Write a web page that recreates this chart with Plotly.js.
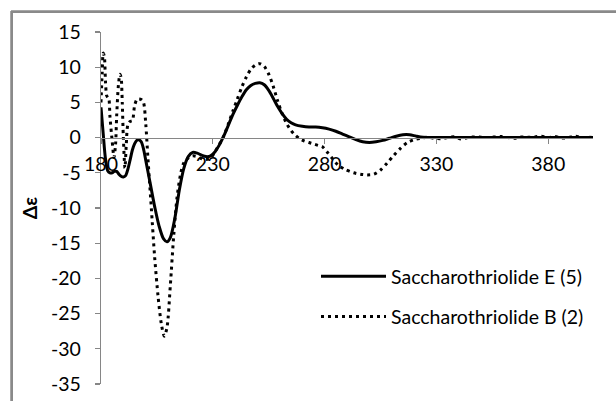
<!DOCTYPE html>
<html>
<head>
<meta charset="utf-8">
<script src="https://cdn.plot.ly/plotly-3.0.1.min.js"></script>
<style>html,body{margin:0;padding:0;background:#fff;}#chart{width:616px;height:401px;}</style>
</head>
<body>
<div id="chart"></div>
<script>
// Wavelength (nm) and Δε readings for Saccharothriolide E (5)
const wlE = [180,181,182,183,184,185,186,187,188,189,190,191,192,193,194,195,196,197,198,199,200,202,204,206,208,209.5,211,213,215,217,219,221,223,225,227,229,231,233,235,237,239,241,243,245,247,249,251,253,255,257,259,261,263,265,267,270,273,276,279,282,285,288,291,294,297,300,303,306,309,312,315,318,321,324,330,340,350,360,370,380,390,400];
const deE = [4.3,0.5,-3,-4.7,-5.0,-5.0,-4.8,-4.8,-5.2,-5.5,-5.6,-5.4,-4.5,-3.2,-1.8,-0.9,-0.4,-0.3,-0.6,-1.6,-3.2,-6.5,-9.8,-12.6,-14.4,-14.8,-14.2,-11.5,-7.5,-4.4,-2.7,-2.1,-2.2,-2.5,-2.7,-2.6,-2.0,-1.0,0.3,1.8,3.3,4.6,5.8,6.8,7.4,7.7,7.8,7.5,6.7,5.6,4.4,3.4,2.6,2.1,1.8,1.6,1.5,1.5,1.4,1.2,0.9,0.5,0.1,-0.3,-0.6,-0.7,-0.6,-0.4,-0.1,0.2,0.4,0.4,0.2,0.05,0,0,0,0,0,0,0,0];

// Wavelength (nm) and Δε readings for Saccharothriolide B (2)
const wlB = [180,180.5,181,181.5,182,182.5,183,183.5,184,185,185.8,186.5,187,187.8,188.5,189,189.5,190,190.7,191.3,192,193,194,195,196,197,198,199,200,201,202.5,204,205.5,207,208.3,209.5,211,212.5,214,215.7,217,219,221,223,225,227,229,231,233,235,237,239,241,243,245,247,249,251,253,255,257,259,261,263,265,267,269,271,273,275,277,279,281,283,286,289,293,296,299,302,305,308,311,314,317,320,323,326,329,332,335,338,341,344,347,350,353,356,359,362,365,368,371,374,377,380,383,386,389,392,395,398,400];
const deB = [5.0,9,12.0,11.5,8,6,5.7,5.5,3,-0.5,-2.8,-1,3,7.5,9.0,8.5,5,0,-4.3,-1,1.8,2.3,2.4,4.5,5.4,5.5,5.4,5.0,2.0,-3,-10,-17,-22.5,-26.5,-28.2,-27,-21,-14,-8.5,-5,-3.6,-2.9,-2.6,-2.7,-3.0,-3.1,-2.9,-2.0,-0.9,0.3,2.0,3.8,5.5,7.2,8.6,9.7,10.3,10.5,10.1,9.0,7.3,5.2,3.4,2.0,1.0,0.3,-0.2,-0.5,-0.7,-0.9,-1.1,-1.3,-2.0,-2.8,-3.9,-4.5,-5.0,-5.2,-5.3,-5.2,-4.6,-3.6,-2.5,-1.5,-0.7,-0.3,-0.1,0.05,-0.1,-0.15,0,0.1,-0.2,0,0.1,0.05,0,0.1,0.15,0,-0.1,0.1,0.05,0.1,0.2,0,0.15,-0.05,0,0.2,0,0.05,0];

const seriesNames = ['Saccharothriolide E (5)', 'Saccharothriolide B (2)'];
const xTicks = [180, 230, 280, 330, 380];
const yTicks = [15, 10, 5, 0, -5, -10, -15, -20, -25, -30, -35];

const FONT = 'Lato, "Open Sans", sans-serif';
const FS = 19.5;
const axisGray = '#868686';
const frameGray = '#8a8a8a';
const W = 616, H = 401;

const traces = [
  {x: wlE, y: deE, type: 'scatter', mode: 'lines', name: seriesNames[0], legendgroup: 'e',
   line: {color: '#000', width: 3, shape: 'spline', smoothing: 0.8}},
  {x: wlB, y: deB, type: 'scatter', mode: 'lines', name: seriesNames[1], legendgroup: 'b',
   line: {color: '#000', width: 3, dash: '3px,4px', shape: 'spline', smoothing: 0.8}},
  // empty trace that only hosts the chart-area frame axes
  {x: [], y: [], type: 'scatter', mode: 'lines', xaxis: 'x2', yaxis: 'y2', showlegend: false, hoverinfo: 'skip'}
];

const yDom = [17 / H, 369 / H];
const frameAxis = {showline: true, linecolor: frameGray, linewidth: 1.5, ticks: '', showticklabels: false,
                   showgrid: false, zeroline: false, automargin: false, range: [0, 1], fixedrange: true};
const layout = {
  width: W, height: H,
  margin: {l: 0, r: 0, t: 0, b: 0, pad: 0},
  paper_bgcolor: '#fff', plot_bgcolor: 'rgba(0,0,0,0)',
  font: {family: FONT, size: FS, color: '#000'},
  showlegend: true,
  legend: {x: 316 / W, y: 1 - 257 / H, xanchor: 'left', yanchor: 'top', bgcolor: 'rgba(0,0,0,0)',
           font: {family: FONT, size: FS, color: '#000'}, tracegroupgap: 12, itemwidth: 65},
  xaxis: {domain: [101 / W, 593 / W], range: [180, 400], tickvals: xTicks, ticktext: xTicks.map(String),
          anchor: 'free', position: yDom[0] + 0.7 * (yDom[1] - yDom[0]),
          showline: true, linecolor: axisGray, linewidth: 1.3,
          ticks: 'outside', ticklen: 5, tickcolor: axisGray, tickwidth: 1.3,
          showgrid: false, zeroline: false, ticklabelstandoff: 4, automargin: false,
          tickfont: {family: FONT, size: FS, color: '#000'}},
  yaxis: {domain: yDom, range: [-35, 15], tickvals: yTicks, ticktext: yTicks.map(String),
          showline: true, linecolor: axisGray, linewidth: 1.3,
          ticks: 'outside', ticklen: 5, tickcolor: axisGray, tickwidth: 1.3,
          showgrid: false, zeroline: false, ticklabelstandoff: 10, automargin: false,
          tickfont: {family: FONT, size: FS, color: '#000'},
          title: {text: '<b>Δε</b>', font: {family: FONT, size: FS, color: '#000'}, standoff: 8}},
  xaxis2: Object.assign({}, frameAxis, {domain: [11 / W, 1], anchor: 'free', position: 1 - 11 / H, side: 'top'}),
  yaxis2: Object.assign({}, frameAxis, {domain: [0, 1 - 11 / H], anchor: 'free', position: 11 / W, side: 'left'}),
  shapes: [
    {type: 'line', xref: 'paper', yref: 'paper', x0: 11 / W, x1: 11 / W, y0: 0, y1: 1 - 11 / H, line: {color: frameGray, width: 1.5}},
    {type: 'line', xref: 'paper', yref: 'paper', x0: 11 / W, x1: 1, y0: 1 - 11 / H, y1: 1 - 11 / H, line: {color: frameGray, width: 1.5}}
  ]
};

Plotly.newPlot('chart', traces, layout, {staticPlot: true, displayModeBar: false});
</script>
</body>
</html>
